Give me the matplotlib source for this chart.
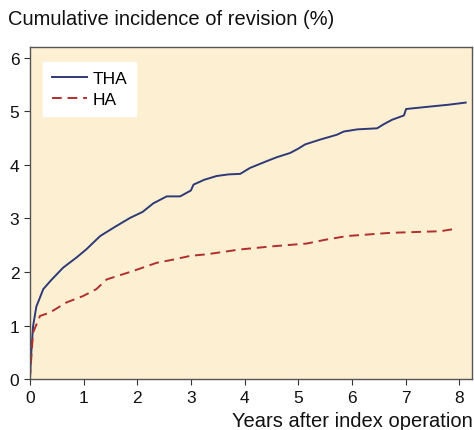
import numpy as np
import matplotlib
matplotlib.use("Agg")
import matplotlib.pyplot as plt

plt.rcParams["font.family"] = ["Liberation Sans", "DejaVu Sans"]

# cumulative incidence (years, %)
tha_years = [0, 0.03, 0.06, 0.12, 0.25, 0.40, 0.62, 0.87, 1.05, 1.31, 1.60, 1.87, 2.10,
             2.30, 2.55, 2.80, 3.00, 3.05, 3.25, 3.48, 3.70, 3.92, 4.10, 4.42, 4.60,
             4.85, 5.00, 5.13, 5.41, 5.72, 5.85, 6.10, 6.47, 6.60, 6.75, 6.97, 7.01,
             7.40, 7.80, 8.12]
tha_values = [0, 0.55, 0.99, 1.35, 1.68, 1.85, 2.08, 2.27, 2.42, 2.67, 2.85, 3.01, 3.12,
              3.28, 3.41, 3.41, 3.52, 3.63, 3.72, 3.79, 3.82, 3.83, 3.94, 4.07, 4.14,
              4.22, 4.30, 4.38, 4.47, 4.56, 4.62, 4.66, 4.68, 4.76, 4.84, 4.92, 5.04,
              5.08, 5.12, 5.16]

ha_years = [0, 0.03, 0.06, 0.19, 0.37, 0.68, 0.99, 1.24, 1.43, 1.93, 2.36, 2.67, 2.99,
            3.30, 3.92, 4.54, 5.16, 5.50, 5.91, 6.72, 7.65, 7.96]
ha_values = [0, 0.45, 0.87, 1.18, 1.24, 1.43, 1.55, 1.68, 1.86, 2.02, 2.17, 2.23, 2.30,
             2.33, 2.42, 2.48, 2.53, 2.60, 2.67, 2.73, 2.76, 2.81]

x_ticks = [0, 1, 2, 3, 4, 5, 6, 7, 8]
y_ticks = [0, 1, 2, 3, 4, 5, 6]

fig = plt.figure(figsize=(4.74, 4.31), dpi=100)
ax = fig.add_axes([0.063, 0.118, 0.933, 0.771])
ax.set_facecolor("#fdefd2")

ax.plot(tha_years, tha_values, color="#2e3a78", lw=1.4, label="THA")
ax.plot(ha_years, ha_values, color="#b0302e", lw=1.4, ls=(0, (5, 3)), label="HA")

ax.set_xlim(0, 8.24)
ax.set_ylim(0, 6.2)
ax.set_xticks(x_ticks)
ax.set_yticks(y_ticks)
ax.tick_params(labelsize=12.5, length=4, color="#333333", labelcolor="#111111")
for sp in ax.spines.values():
    sp.set_color("#555555")
    sp.set_linewidth(1.0)

leg = ax.legend(loc="upper left", bbox_to_anchor=(0.03, 0.955), fontsize=12.5,
                frameon=True, fancybox=False, handlelength=2.0, handletextpad=0.35,
                borderpad=0.5, labelspacing=0.35, borderaxespad=0.0)
leg.get_frame().set_facecolor("white")
leg.get_frame().set_edgecolor("white")
leg.get_frame().set_alpha(1)

fig.text(0.017, 0.955, "Cumulative incidence of revision (%)", fontsize=14.5,
         ha="left", va="center", color="#111111")
fig.text(0.998, 0.022, "Years after index operation", fontsize=14.5,
         ha="right", va="center", color="#111111")

fig.savefig("out.png", dpi=100)
